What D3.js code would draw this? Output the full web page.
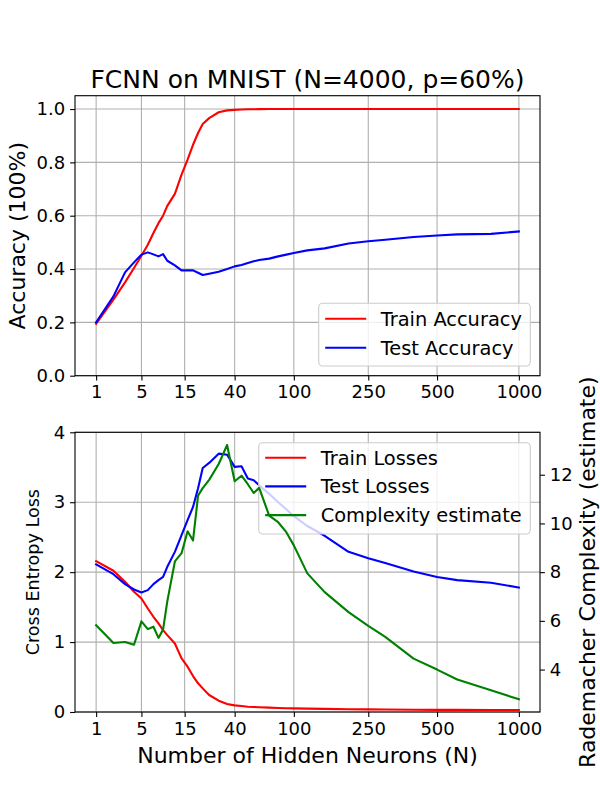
<!DOCTYPE html>
<html>
<head>
<meta charset="utf-8">
<script src="https://cdn.jsdelivr.net/npm/d3@7"></script>
<style>
  body { margin: 0; background: #fff; }
  svg { display: block; font-family: "DejaVu Sans", sans-serif; }
</style>
</head>
<body>
<div id="chart"></div>
<script>
// FCNN on MNIST: accuracy (top) and losses + complexity (bottom)

const hiddenNeurons = [1, 2, 3, 4, 5, 6, 7, 8, 9, 10, 12, 14, 16, 18, 20, 22, 25, 30, 35, 40,
  45, 50, 55, 60, 70, 80, 90, 100, 120, 150, 200, 250, 300, 400, 500, 600, 800, 1000];

const trainAccuracy = [0.195, 0.285, 0.35, 0.404, 0.45, 0.491, 0.535, 0.572, 0.60, 0.637,
  0.682, 0.754, 0.81, 0.866, 0.91, 0.944, 0.966, 0.988, 0.995, 0.997,
  0.998, 0.999, 0.999, 0.9995, 1.0, 1.0, 1.0, 1.0, 1.0, 1.0, 1.0, 1.0, 1.0, 1.0, 1.0, 1.0, 1.0, 1.0];

const testAccuracy = [0.20, 0.2975, 0.3875, 0.425, 0.454, 0.4625, 0.455, 0.4475, 0.456, 0.431,
  0.414, 0.395, 0.395, 0.395, 0.386, 0.3775, 0.3825, 0.39, 0.40, 0.41,
  0.415, 0.4225, 0.429, 0.434, 0.439, 0.4475, 0.454, 0.46, 0.47, 0.4775, 0.496, 0.504, 0.51,
  0.52, 0.526, 0.53, 0.532, 0.541];

const trainLosses = [2.157, 2.02, 1.862, 1.72, 1.624, 1.48, 1.362, 1.267, 1.171, 1.10,
  0.98, 0.767, 0.648, 0.514, 0.41, 0.338, 0.243, 0.162, 0.114, 0.095,
  0.086, 0.076, 0.071, 0.067, 0.062, 0.057, 0.054, 0.052, 0.048, 0.045, 0.04, 0.038, 0.036,
  0.033, 0.031, 0.03, 0.029, 0.028];

const testLosses = [2.11, 1.971, 1.829, 1.752, 1.71, 1.743, 1.829, 1.886, 1.933, 2.076,
  2.29, 2.529, 2.743, 2.933, 3.2, 3.49, 3.562, 3.695, 3.68, 3.505,
  3.514, 3.338, 3.314, 3.243, 3.12, 3.0, 2.9, 2.8, 2.66, 2.52, 2.29, 2.2, 2.13,
  2.01, 1.93, 1.886, 1.848, 1.78];

const complexity = [5.82, 5.09, 5.13, 5.02, 5.98, 5.66, 5.76, 5.30, 5.64, 6.8,
  8.44, 8.78, 9.68, 9.30, 11.14, 11.45, 11.79, 12.44, 13.22, 11.73,
  11.96, 11.61, 11.25, 11.46, 10.32, 10.05, 9.64, 9.1, 7.95, 7.18, 6.36, 5.79, 5.34,
  4.45, 4.0, 3.59, 3.15, 2.78];

const xTicks = [1, 5, 15, 40, 100, 250, 500, 1000];
const accTicks = [0, 0.2, 0.4, 0.6, 0.8, 1.0];
const lossTicks = [0, 1, 2, 3, 4];
const complexityTicks = [4, 6, 8, 10, 12];

const W = 600, H = 800;
const FONT = '"DejaVu Sans", sans-serif';
const TICK = 4.9, PAD = 4.9;

const svg = d3.select('#chart').append('svg')
  .attr('width', W)
  .attr('height', H)
  .attr('viewBox', `0 0 ${W} ${H}`);

const topBox = { left: 75, right: 540, top: 95.7, bottom: 375.7 };
const botBox = { left: 75, right: 540, top: 432.3, bottom: 712 };

// x axis uses a fourth-root scale with matplotlib-like 5% margins
const t0 = Math.pow(d3.min(hiddenNeurons), 0.25);
const t1 = Math.pow(d3.max(hiddenNeurons), 0.25);
const tPad = (t1 - t0) * 0.05;
function makeX(box) {
  return d3.scalePow().exponent(0.25)
    .domain([Math.pow(t0 - tPad, 4), Math.pow(t1 + tPad, 4)])
    .range([box.left, box.right]);
}

function styleAxis(sel, size) {
  sel.select('.domain').remove();
  sel.selectAll('.tick line').attr('stroke', '#000').attr('stroke-width', 1.1);
  sel.selectAll('.tick text')
    .attr('fill', '#000')
    .style('font-family', FONT)
    .style('font-size', size + 'px');
}

function drawGrid(g, box, x, y, yTicks) {
  const grid = g.append('g').attr('stroke', '#b0b0b0').attr('stroke-width', 1.1);
  xTicks.forEach(t => {
    grid.append('line').attr('x1', x(t)).attr('x2', x(t))
      .attr('y1', box.top).attr('y2', box.bottom);
  });
  yTicks.forEach(t => {
    grid.append('line').attr('x1', box.left).attr('x2', box.right)
      .attr('y1', y(t)).attr('y2', y(t));
  });
}

function drawLine(g, x, y, values, color) {
  const line = d3.line()
    .x((d, i) => x(hiddenNeurons[i]))
    .y(d => y(d));
  g.append('path')
    .attr('d', line(values))
    .attr('fill', 'none')
    .attr('stroke', color)
    .attr('stroke-width', 2.1)
    .attr('stroke-linejoin', 'round')
    .attr('stroke-linecap', 'square');
}

function drawLegend(g, items, lg) {
  g.append('rect')
    .attr('x', lg.x).attr('y', lg.y)
    .attr('width', lg.w).attr('height', lg.h)
    .attr('rx', 4)
    .attr('fill', 'rgba(255,255,255,0.8)')
    .attr('stroke', '#cccccc')
    .attr('stroke-width', 1.1);
  items.forEach((it, i) => {
    const cy = lg.y + lg.first + i * lg.step;
    g.append('line')
      .attr('x1', lg.x + 6.5).attr('x2', lg.x + 47.5)
      .attr('y1', cy).attr('y2', cy)
      .attr('stroke', it.color).attr('stroke-width', 2.1);
    g.append('text')
      .attr('x', lg.x + 62).attr('y', cy)
      .attr('dy', '0.36em')
      .style('font-family', FONT).style('font-size', '19.4px')
      .text(it.label);
  });
}

function frame(g, box) {
  g.append('rect')
    .attr('x', box.left).attr('y', box.top)
    .attr('width', box.right - box.left).attr('height', box.bottom - box.top)
    .attr('fill', 'none').attr('stroke', '#000').attr('stroke-width', 1.1);
}

// ---- top panel: accuracy ----
const xTop = makeX(topBox);
const yAcc = d3.scaleLinear().domain([0, 1.05]).range([topBox.bottom, topBox.top]);
const gTop = svg.append('g');

drawGrid(gTop, topBox, xTop, yAcc, accTicks);
drawLine(gTop, xTop, yAcc, trainAccuracy, '#ff0000');
drawLine(gTop, xTop, yAcc, testAccuracy, '#0000ff');

gTop.append('g')
  .attr('transform', `translate(0,${topBox.bottom})`)
  .call(d3.axisBottom(xTop).tickValues(xTicks).tickFormat(d3.format('d')).tickSize(TICK).tickPadding(PAD))
  .call(s => styleAxis(s, 18));
gTop.append('g')
  .attr('transform', `translate(${topBox.left},0)`)
  .call(d3.axisLeft(yAcc).tickValues(accTicks).tickFormat(d3.format('.1f')).tickSize(TICK).tickPadding(PAD))
  .call(s => styleAxis(s, 18));

drawLegend(gTop, [
  { label: 'Train Accuracy', color: '#ff0000' },
  { label: 'Test Accuracy', color: '#0000ff' }
], { x: 318.7, y: 303.3, w: 211.6, h: 62.7, first: 15.4, step: 29 });

frame(gTop, topBox);

svg.append('text')
  .attr('x', (topBox.left + topBox.right) / 2).attr('y', 88)
  .attr('text-anchor', 'middle')
  .style('font-family', FONT).style('font-size', '25px')
  .text('FCNN on MNIST (N=4000, p=60%)');

svg.append('text')
  .attr('transform', `translate(25,${(topBox.top + topBox.bottom) / 2}) rotate(-90)`)
  .attr('text-anchor', 'middle')
  .style('font-family', FONT).style('font-size', '22px')
  .text('Accuracy (100%)');

// ---- bottom panel: losses + complexity on twin axis ----
const xBot = makeX(botBox);
const yLoss = d3.scaleLinear().domain([0, 4]).range([botBox.bottom, botBox.top]);
const cExt = d3.extent(complexity);
const cPad = (cExt[1] - cExt[0]) * 0.05;
const yComp = d3.scaleLinear().domain([cExt[0] - cPad, cExt[1] + cPad]).range([botBox.bottom, botBox.top]);
const gBot = svg.append('g');

drawGrid(gBot, botBox, xBot, yLoss, lossTicks);
drawLine(gBot, xBot, yLoss, trainLosses, '#ff0000');
drawLine(gBot, xBot, yLoss, testLosses, '#0000ff');

gBot.append('g')
  .attr('transform', `translate(0,${botBox.bottom})`)
  .call(d3.axisBottom(xBot).tickValues(xTicks).tickFormat(d3.format('d')).tickSize(TICK).tickPadding(PAD))
  .call(s => styleAxis(s, 18));
gBot.append('g')
  .attr('transform', `translate(${botBox.left},0)`)
  .call(d3.axisLeft(yLoss).tickValues(lossTicks).tickFormat(d3.format('d')).tickSize(TICK).tickPadding(PAD))
  .call(s => styleAxis(s, 18));

drawLegend(gBot, [
  { label: 'Train Losses', color: '#ff0000' },
  { label: 'Test Losses', color: '#0000ff' },
  { label: 'Complexity estimate', color: '#008000' }
], { x: 258.7, y: 442.7, w: 271.6, h: 91.3, first: 15, step: 28.7 });

// twin axis is drawn on top of the first axis and its legend
drawLine(gBot, xBot, yComp, complexity, '#008000');
gBot.append('g')
  .attr('transform', `translate(${botBox.right},0)`)
  .call(d3.axisRight(yComp).tickValues(complexityTicks).tickFormat(d3.format('d')).tickSize(TICK).tickPadding(PAD))
  .call(s => styleAxis(s, 18));

frame(gBot, botBox);

svg.append('text')
  .attr('x', (botBox.left + botBox.right) / 2).attr('y', 763)
  .attr('text-anchor', 'middle')
  .style('font-family', FONT).style('font-size', '22px')
  .text('Number of Hidden Neurons (N)');

svg.append('text')
  .attr('transform', `translate(39,${(botBox.top + botBox.bottom) / 2}) rotate(-90)`)
  .attr('text-anchor', 'middle')
  .style('font-family', FONT).style('font-size', '17.6px')
  .text('Cross Entropy Loss');

svg.append('text')
  .attr('transform', `translate(595,${(botBox.top + botBox.bottom) / 2}) rotate(-90)`)
  .attr('text-anchor', 'middle')
  .style('font-family', FONT).style('font-size', '22px')
  .text('Rademacher Complexity (estimate)');
</script>
</body>
</html>
